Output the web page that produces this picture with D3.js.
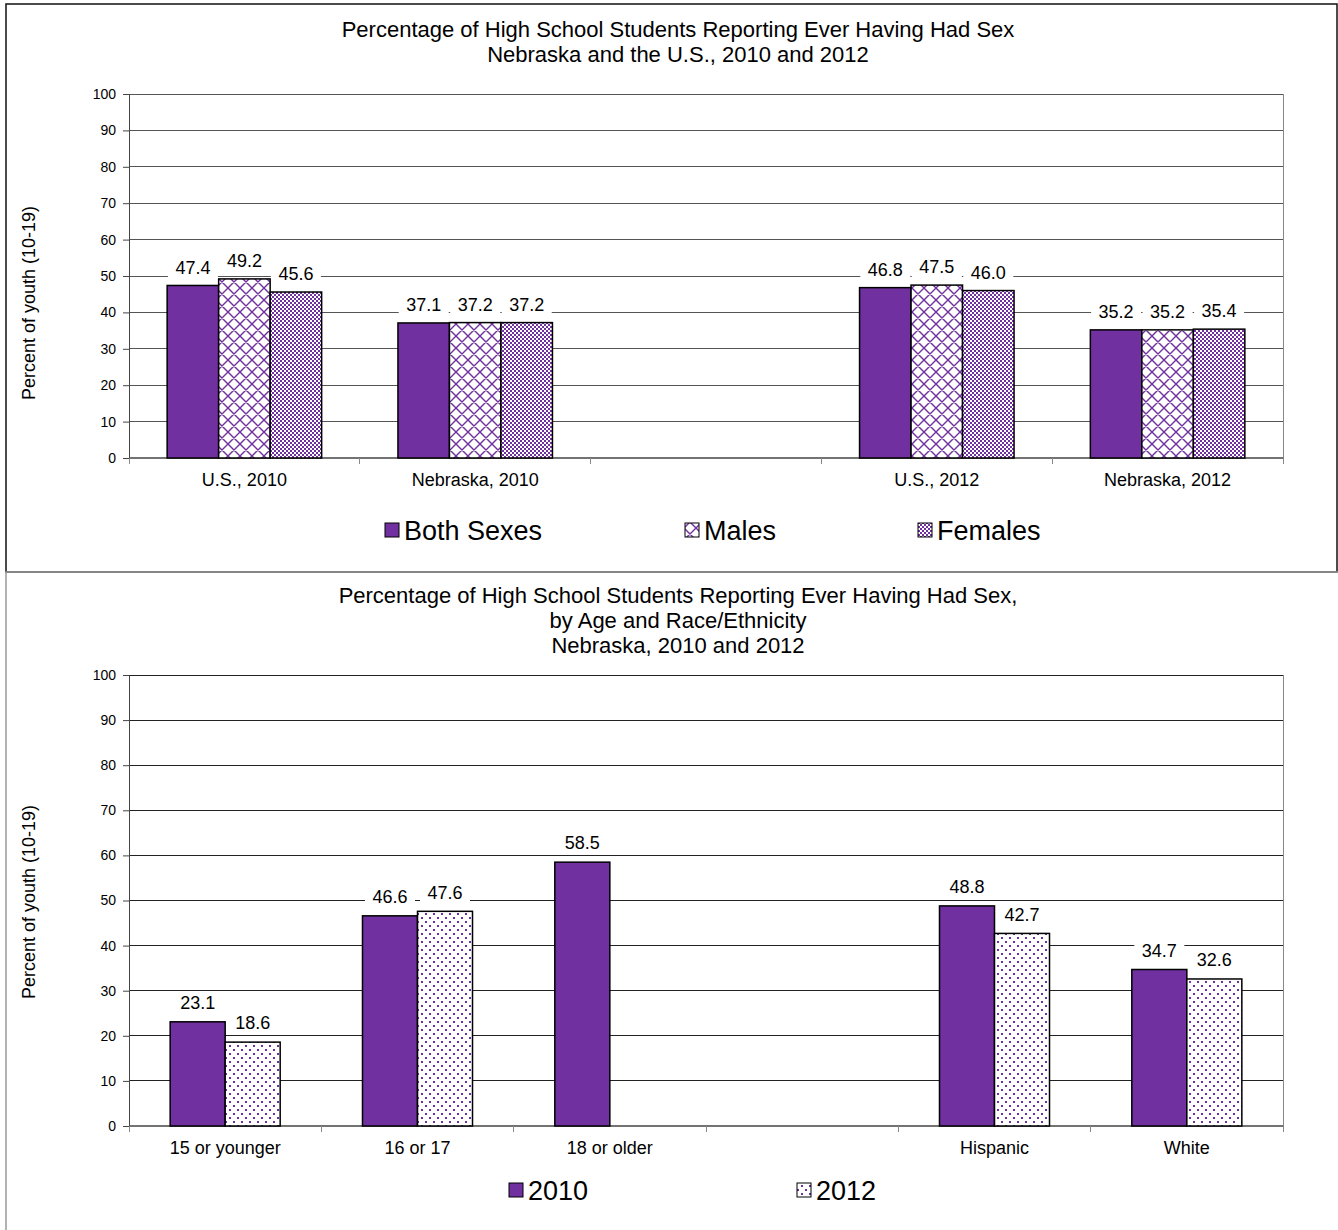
<!DOCTYPE html>
<html><head><meta charset="utf-8">
<script src="https://d3js.org/d3.v7.min.js"></script>
<style>body{margin:0;background:#fff}svg{display:block;font-family:"Liberation Sans",Arial,sans-serif}</style>
</head><body><svg id="c" width="1338" height="1230"></svg>
<script>
// ---- data ----
const topTitle = ["Percentage of High School Students Reporting Ever Having Had Sex", "Nebraska and the U.S., 2010 and 2012"];
const topCategories = ["U.S., 2010", "Nebraska, 2010", "", "U.S., 2012", "Nebraska, 2012"];
const topSeriesNames = ["Both Sexes", "Males", "Females"];
const bothSexes = [47.4, 37.1, null, 46.8, 35.2];
const males = [49.2, 37.2, null, 47.5, 35.2];
const females = [45.6, 37.2, null, 46.0, 35.4];

const bottomTitle = ["Percentage of High School Students Reporting Ever Having Had Sex,", "by Age and Race/Ethnicity", "Nebraska, 2010 and 2012"];
const bottomCategories = ["15 or younger", "16 or 17", "18 or older", "", "Hispanic", "White"];
const bottomSeriesNames = ["2010", "2012"];
const y2010 = [23.1, 46.6, 58.5, null, 48.8, 34.7];
const y2012 = [18.6, 47.6, null, null, 42.7, 32.6];

const yTicks = [0, 10, 20, 30, 40, 50, 60, 70, 80, 90, 100];
const yTitle = "Percent of youth (10-19)";

const PURPLE = "#7030A0";
const svg = d3.select("#c");
const defs = svg.append("defs");

// patterns
const pSolid = PURPLE;
const pm = defs.append("pattern").attr("id", "pMales").attr("patternUnits", "userSpaceOnUse").attr("width", 12).attr("height", 12);
pm.append("rect").attr("width", 12).attr("height", 12).attr("fill", "#fff");
pm.append("path").attr("d", "M0,0L12,12M12,0L0,12M-1,11L1,13M11,-1L13,1M-1,1L1,-1M11,13L13,11").attr("stroke", PURPLE).attr("stroke-width", 1.4);
const pf = defs.append("pattern").attr("id", "pFemales").attr("patternUnits", "userSpaceOnUse").attr("width", 4).attr("height", 4);
pf.append("rect").attr("width", 4).attr("height", 4).attr("fill", "#fff");
pf.append("rect").attr("width", 2).attr("height", 2).attr("fill", PURPLE);
pf.append("rect").attr("x", 2).attr("y", 2).attr("width", 2).attr("height", 2).attr("fill", PURPLE);
const pd = defs.append("pattern").attr("id", "pDots").attr("patternUnits", "userSpaceOnUse").attr("width", 8).attr("height", 8);
pd.append("rect").attr("width", 8).attr("height", 8).attr("fill", "#fff");
pd.append("rect").attr("x", 1).attr("y", 1).attr("width", 2).attr("height", 2).attr("fill", PURPLE);
pd.append("rect").attr("x", 5).attr("y", 5).attr("width", 2).attr("height", 2).attr("fill", PURPLE);

function chart(cfg) {
  const g = svg.append("g");
  // frame
  g.append("rect").attr("x", cfg.box[0]).attr("y", cfg.box[1]).attr("width", cfg.box[2]).attr("height", cfg.box[3])
    .attr("fill", "none").attr("stroke", cfg.boxColor).attr("stroke-width", 1.5);
  // titles
  cfg.title.forEach((t, i) => g.append("text").attr("x", 678).attr("y", cfg.titleY + i * cfg.titleGap)
    .attr("text-anchor", "middle").attr("font-size", 22).attr("fill", "#000").text(t));
  const L = 129, R = 1283;
  const y = d3.scaleLinear().domain([0, 100]).range([cfg.bottom, cfg.top]);
  const x = d3.scaleBand().domain(cfg.categories).range([L, R]).padding(0);
  const step = x.step();
  const gw = step * cfg.groupFrac;
  const xs = d3.scaleBand().domain(cfg.seriesNames).range([0, gw]).padding(0);
  // gridlines
  g.append("g").selectAll("line").data(yTicks.filter(d => d > 0)).join("line")
    .attr("x1", L).attr("x2", R).attr("y1", d => y(d)).attr("y2", d => y(d))
    .attr("stroke", cfg.gridColor).attr("stroke-width", 1).attr("shape-rendering", "crispEdges");
  // right plot edge
  g.append("line").attr("x1", R).attr("x2", R).attr("y1", cfg.top).attr("y2", cfg.bottom + 6).attr("stroke", "#888").attr("shape-rendering", "crispEdges");
  // y axis
  const ya = g.append("g").attr("transform", `translate(${L},0)`).call(d3.axisLeft(y).tickValues(yTicks).tickSize(6).tickPadding(7).tickSizeOuter(0));
  ya.select(".domain").attr("stroke", "#444");
  ya.selectAll(".tick line").attr("stroke", "#444");
  ya.selectAll("text").attr("font-size", 14).attr("font-family", "Liberation Sans, Arial, sans-serif").attr("fill", "#000");
  // x axis baseline + boundary ticks
  g.append("line").attr("x1", L).attr("x2", R).attr("y1", cfg.bottom).attr("y2", cfg.bottom).attr("stroke", "#444").attr("stroke-width", 1.5);
  const bounds = cfg.categories.map(c => x(c)).concat([R]);
  g.append("g").selectAll("line").data(bounds).join("line")
    .attr("x1", d => d).attr("x2", d => d).attr("y1", cfg.bottom).attr("y2", cfg.bottom + 6).attr("stroke", "#888").attr("shape-rendering", "crispEdges");
  g.append("g").selectAll("text").data(cfg.categories).join("text")
    .attr("x", d => x(d) + step / 2).attr("y", cfg.bottom + 28).attr("text-anchor", "middle")
    .attr("font-size", 18).attr("fill", "#000").text(d => d);
  // y title
  g.append("text").attr("transform", `translate(35,${cfg.yTitleY}) rotate(-90)`).attr("text-anchor", "middle")
    .attr("font-size", 18).attr("fill", "#000").text(yTitle);
  // bar data
  const bars = [];
  cfg.series.forEach((vals, si) => vals.forEach((v, ci) => {
    if (v == null) return;
    const bx = x(cfg.categories[ci]) + (step - gw) / 2 + xs(cfg.seriesNames[si]);
    bars.push({ v, x: bx, w: xs.bandwidth(), fill: cfg.fills[si] });
  }));
  const lblH = 20;
  // label backgrounds
  g.append("g").selectAll("rect").data(bars).join("rect")
    .attr("x", d => d.x + d.w / 2 - 25).attr("y", d => y(d.v) - cfg.lblOff - lblH / 2)
    .attr("width", 50).attr("height", lblH).attr("fill", "#fff");
  g.append("g").selectAll("rect").data(bars).join("rect")
    .attr("x", d => d.x).attr("y", d => y(d.v)).attr("width", d => d.w).attr("height", d => cfg.bottom - y(d.v))
    .attr("fill", d => d.fill).attr("stroke", "#000").attr("stroke-width", 1.5);
  g.append("g").selectAll("text").data(bars).join("text")
    .attr("x", d => d.x + d.w / 2).attr("y", d => y(d.v) - cfg.lblOff).attr("dy", "0.35em")
    .attr("text-anchor", "middle").attr("font-size", 18).attr("fill", "#000").text(d => d.v.toFixed(1));
  // legend
  cfg.seriesNames.forEach((n, i) => {
    const lx = cfg.legendX[i];
    g.append("rect").attr("x", lx).attr("y", cfg.legendY - 7).attr("width", 14).attr("height", 14)
      .attr("fill", cfg.fills[i]).attr("stroke", "#000").attr("stroke-width", 1);
    g.append("text").attr("x", lx + 19).attr("y", cfg.legendY).attr("dy", "0.36em")
      .attr("font-size", 27).attr("fill", "#000").text(n);
  });
}

chart({
  box: [6, 4, 1331, 568], boxColor: "#111",
  title: topTitle, titleY: 37, titleGap: 25,
  categories: topCategories, seriesNames: topSeriesNames, series: [bothSexes, males, females],
  fills: [pSolid, "url(#pMales)", "url(#pFemales)"],
  top: 94, bottom: 458, groupFrac: 154.5 / 230.8, gridColor: "#555",
  lblOff: 18, yTitleY: 303, legendX: [385, 685, 918], legendY: 530
});
chart({
  box: [6, 572, 1345, 670], boxColor: "#999",
  title: bottomTitle, titleY: 603, titleGap: 25,
  categories: bottomCategories, seriesNames: bottomSeriesNames, series: [y2010, y2012],
  fills: [pSolid, "url(#pDots)"],
  top: 675, bottom: 1126, groupFrac: 110 / 192.3, gridColor: "#222",
  lblOff: 19, yTitleY: 902, legendX: [509, 797], legendY: 1190
});
</script></body></html>
